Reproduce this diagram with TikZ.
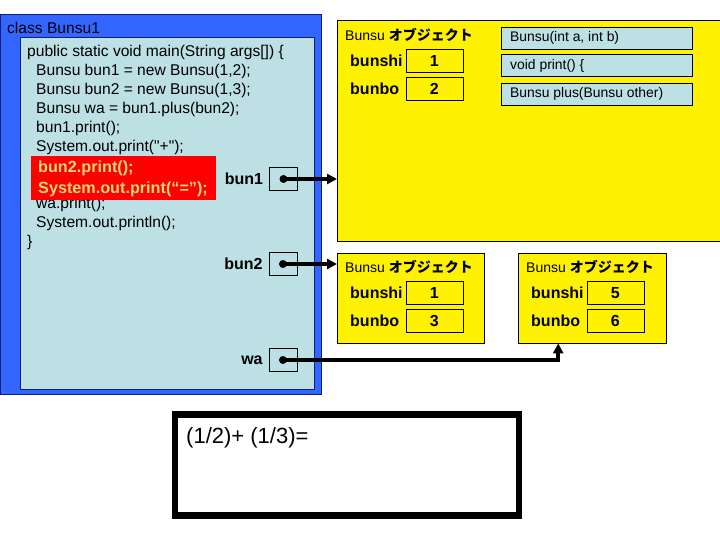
\documentclass[tikz,border=0pt]{standalone}
\usepackage{fontspec}
\setmainfont{Liberation Sans}[Ligatures=TeXOff]
\newfontfamily\jp{Noto Sans CJK JP}
\usetikzlibrary{arrows.meta, positioning}
\definecolor{clsblue}{RGB}{51,102,255}
\definecolor{clsedge}{RGB}{20,30,110}
\definecolor{mainblue}{RGB}{188,224,228}
\definecolor{hilite}{RGB}{232,218,120}
\tikzset{
  >={Triangle[length=10pt, width=10pt]},
  every picture/.style={line join=miter},
  code/.style={anchor=base west, inner sep=0pt, font=\fontsize{15.6}{18}\selectfont},
  redcode/.style={code, text=hilite, font=\fontsize{16.2}{18}\selectfont\bfseries},
  varname/.style={inner sep=0pt, font=\fontsize{16}{18}\selectfont\bfseries},
  varbox/.style={draw, thin, minimum width=28pt, minimum height=23pt, inner sep=0pt},
  dot/.style={circle, fill, inner sep=0pt, minimum size=8pt},
  objbox/.style={draw, thin, fill=yellow, anchor=north west, inner sep=0pt},
  objtitle/.style={anchor=west, inner sep=0pt, font=\fontsize{14}{16}\selectfont},
  fieldbox/.style={draw, thin, minimum width=57pt, minimum height=23pt, inner sep=0pt,
    font=\fontsize{16}{18}\selectfont\bfseries},
  methbox/.style={draw, thin, fill=mainblue, anchor=north west, minimum width=191pt,
    minimum height=22pt, inner sep=0pt},
  methtext/.style={anchor=west, inner sep=0pt, font=\fontsize{13.9}{15}\selectfont},
  ref/.style={->, line width=3.5pt},
}
\begin{document}
\begin{tikzpicture}[x=1pt, y=-1pt]
  \useasboundingbox (0,0) rectangle (720,540);
  \clip (0,0) rectangle (720,540);
  % class Bunsu1 and its main method
  \draw[clsedge, fill=clsblue] (0,14) rectangle (321,394);
  \draw[clsedge, fill=mainblue] (20,37) rectangle (314,389);
  \node[code] (cls) at (7,34) {class Bunsu1};
  \node[code] (m0) at (27,57) {public static void main(String args[]) \{};
  \node[code] (m1) at (36,76) {Bunsu bun1 = new Bunsu(1,2);};
  \node[code] (m2) at (36,95) {Bunsu bun2 = new Bunsu(1,3);};
  \node[code] (m3) at (36,114) {Bunsu wa = bun1.plus(bun2);};
  \node[code] (m4) at (36,133) {bun1.print();};
  \node[code] (m5) at (36,152) {System.out.print("+");};
  \node[code] (m8) at (36,209) {wa.print();};
  \node[code] (m9) at (36,228) {System.out.println();};
  \node[code] (m10) at (27,247) {\}};
  % current line
  \node[fill=red, anchor=north west, minimum width=185pt, minimum height=44pt, inner sep=0pt] (hl) at (31,156) {};
  \node[redcode] (m6) at (38,173) {bun2.print();};
  \node[redcode] (m7) at (38,194) {System.out.print(“=”);};
  % local variables
  \node[varbox] (bun1) at (283.5,179) {};
  \node[varbox] (bun2) at (283,264) {};
  \node[varbox] (wa) at (283,360) {};
  \foreach \v in {bun1, bun2, wa}{
    \node[varname, left=6pt of \v] (\v lbl) {\v};
    \node[dot] (\v dot) at (\v.center) {};}
  % objects
  \node[objbox, minimum width=400pt, minimum height=221pt] (obj1) at (337,20) {};
  \node[objbox, minimum width=147pt, minimum height=90pt] (obj2) at (337,253) {};
  \node[objbox, minimum width=148pt, minimum height=90pt] (obj3) at (518,253) {};
  \foreach \o/\x/\y/\n/\d in {obj1/345/35/1/2, obj2/345/267/1/3, obj3/526/267/5/6}{
    \node[objtitle] (\o ttl) at (\x,\y) {Bunsu {\jp\bfseries オブジェクト}};
    \node[fieldbox, anchor=north west] (\o n) at (\x+60.5,\y+14) {\n};
    \node[fieldbox, below=5pt of \o n] (\o d) {\d};
    \node[varname, anchor=west] at (\x+5,0 |- \o n) {bunshi};
    \node[varname, anchor=west] at (\x+5,0 |- \o d) {bunbo};}
  % methods of obj1
  \node[methbox] (mk) at (501,27) {};
  \node[methbox, below=5pt of mk] (mp) {};
  \node[methbox, below=6pt of mp] (mplus) {};
  \node[methtext] at ([xshift=9pt]mk.west) {Bunsu(int a, int b)};
  \node[methtext] at ([xshift=9pt]mp.west) {void print() \{};
  \node[methtext] at ([xshift=9pt]mplus.west) {Bunsu plus(Bunsu other)};
  % references
  \draw[ref] (bun1dot.center) -- (bun1dot.center -| obj1.west);
  \draw[ref] (bun2dot.center) -- (bun2dot.center -| obj2.west);
  \draw[ref] (wadot.center) -| ([xshift=-34pt]obj3.south);
  % console output
  \node[draw, line width=6.5pt, minimum width=344pt, minimum height=101pt, inner sep=0pt] (out) at (347,465) {};
  \node[anchor=west, inner sep=0pt, font=\fontsize{22}{26}\selectfont] (outtxt) at (186,438) {(1/2)+ (1/3)=};
\end{tikzpicture}
\end{document}
